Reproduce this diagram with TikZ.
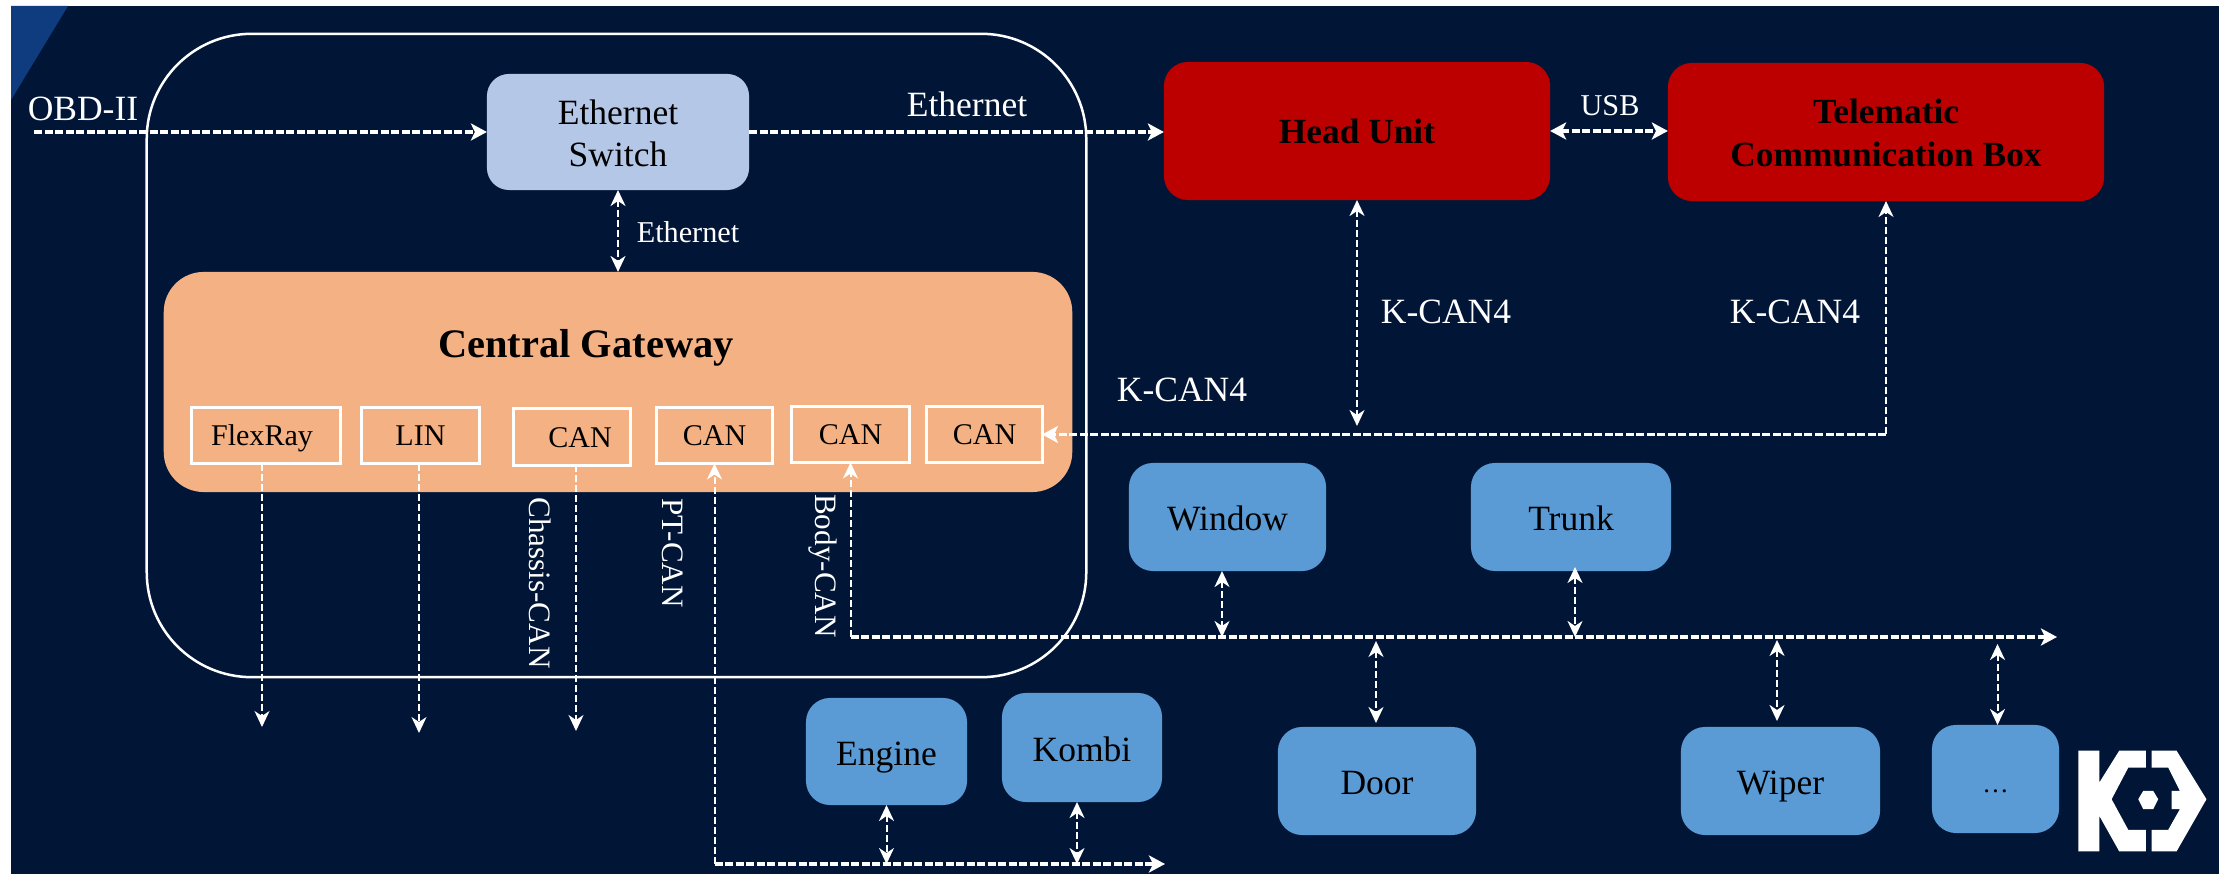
\documentclass[tikz,border=0pt]{standalone}
\usepackage{fontspec}
\setmainfont{Liberation Serif}
\usetikzlibrary{arrows.meta}
\definecolor{pagebg}{HTML}{011637}
\definecolor{wedgeblue}{HTML}{0F3C7E}
\definecolor{switchblue}{HTML}{B4C7E7}
\definecolor{gateorange}{HTML}{F4B183}
\definecolor{headred}{HTML}{BC0000}
\definecolor{ecublue}{HTML}{5B9BD5}
\tikzset{
    box/.style={inner sep=0pt, outer sep=0pt, align=center, font=\fontsize{10.1pt}{11.9pt}\selectfont},
    ecu/.style={box, fill=ecublue, rounded corners=0.24cm, text=black, text height=7.8pt, text depth=0pt},
    redbox/.style={box, fill=headred, rounded corners=0.24cm, text=black, font=\fontsize{10.05pt}{12.2pt}\selectfont\bfseries},
    portbox/.style={box, draw=white, line width=0.03cm, minimum height=0.56cm, text height=5.7pt, text depth=0pt, font=\fontsize{8.55pt}{10pt}\selectfont},
    lbl/.style={inner sep=0pt, outer sep=0pt, text=white, font=\fontsize{10.1pt}{12pt}\selectfont},
    smalllbl/.style={lbl, font=\fontsize{8.6pt}{10pt}\selectfont},
    vlbl/.style={lbl, rotate=-90, font=\fontsize{8.85pt}{11pt}\selectfont},
    thinbus/.style={white, line width=0.02cm, dash pattern=on 0.07cm off 0.03cm, >={Stealth[length=0.16cm,width=0.15cm,inset=0.05cm]}},
    thickbus/.style={white, line width=0.035cm, dash pattern=on 0.08cm off 0.025cm, >={Stealth[length=0.16cm,width=0.17cm,inset=0.04cm]}}
}
\begin{document}
\begin{tikzpicture}[x=0.01cm,y=-0.01cm]
    \useasboundingbox (0,0) rectangle (2231,874);
    \fill [white] (0,0) rectangle (2231,874);
    \fill [pagebg] (11,6) rectangle (2219,874);
    \fill [wedgeblue] (11,6) -- (68,6) -- (11,100) -- cycle;

    \node [box, draw=white, line width=0.025cm, rounded corners=1.05cm, minimum width=9.39cm, minimum height=6.43cm] (frame) at (616.5,355.5) {};
    \node [box, fill=switchblue, rounded corners=0.22cm, minimum width=2.62cm, minimum height=1.16cm, text=black, text height=19.5pt, text depth=0pt] (switch) at (618,132) {Ethernet\\Switch};
    \node [box, fill=gateorange, rounded corners=0.4cm, minimum width=9.08cm, minimum height=2.2cm] (gate) at (618,382) {};
    \node [box, text=black, text height=7.6pt, text depth=0pt, font=\fontsize{11.5pt}{13pt}\selectfont\bfseries] (gatetitle) at (586,344) {Central Gateway};

    \node [portbox, minimum width=1.48cm] (flex) at (266,435.5) {FlexRay\hspace{0.08cm}};
    \node [portbox, minimum width=1.17cm] (lin) at (420.5,435.5) {LIN};
    \node [portbox, minimum width=1.16cm] (canc) at (572,437) {\hspace{0.16cm}CAN};
    \node [portbox, minimum width=1.15cm] (canp) at (714.5,435.5) {CAN};
    \node [portbox, minimum width=1.17cm] (canb) at (850.5,434.5) {CAN};
    \node [portbox, minimum width=1.15cm] (cank) at (984.5,434.5) {CAN};

    \node [redbox, minimum width=3.86cm, minimum height=1.38cm, text height=7.2pt, text depth=0pt] (head) at (1357,131) {Head Unit};
    \node [redbox, minimum width=4.36cm, minimum height=1.38cm, text height=19.5pt, text depth=0pt] (tele) at (1886,132) {Telematic\\Communication Box};

    \node [ecu, minimum width=1.97cm, minimum height=1.08cm] (window) at (1227.5,517) {Window};
    \node [ecu, minimum width=2cm, minimum height=1.08cm] (trunk) at (1571,517) {Trunk};
    \node [ecu, minimum width=1.98cm, minimum height=1.08cm] (door) at (1377,781) {Door};
    \node [ecu, minimum width=1.99cm, minimum height=1.08cm] (wiper) at (1780.5,781) {Wiper};
    \node [ecu, minimum width=1.27cm, minimum height=1.08cm] (dots) at (1995.5,779) {\fontsize{7.5pt}{9pt}\selectfont\dots};
    \node [ecu, minimum width=1.61cm, minimum height=1.07cm] (engine) at (886.5,751.5) {Engine};
    \node [ecu, minimum width=1.6cm, minimum height=1.09cm] (kombi) at (1082,747.5) {Kombi};

    \node [lbl] (obdlbl) at (83,109) {OBD-II};
    \node [lbl] (ethlbl) at (967,104) {Ethernet};
    \node [smalllbl] (gwethlbl) at (688,232) {Ethernet};
    \node [smalllbl] (usblbl) at (1610,106) {USB};
    \node [lbl] (kheadlbl) at (1446,312) {K-CAN4};
    \node [lbl] (ktelelbl) at (1795,312) {K-CAN4};
    \node [lbl] (kgatelbl) at (1182,390) {K-CAN4};
    \node [vlbl] (chassislbl) at (540,583) {Chassis-CAN};
    \node [vlbl] (ptlbl) at (673,553) {PT-CAN};
    \node [vlbl] (bodylbl) at (823,566) {Body-CAN};

    \coordinate (obd) at (34,132);
    \coordinate (kbend) at (tele.south |- cank.east);
    \coordinate (kstop) at (1357,426);
    \coordinate (flexend) at (262,727);
    \coordinate (linend) at (419,733);
    \coordinate (canend) at (576,731);
    \coordinate (ptbend) at (canp.south |- 0,864);
    \coordinate (ptend) at (1165,864);
    \coordinate (bodybend) at (canb.south |- 0,637);
    \coordinate (bodyend) at (2057,637);
    \coordinate (wintap) at (1222,637);
    \coordinate (trunktap) at (1575,637);
    \coordinate (trunkstop) at (1575,567);
    \coordinate (doorstop) at (1376,723);
    \coordinate (doortap) at (1376,641);
    \coordinate (wipertap) at (1777,640);
    \coordinate (wiperstop) at (1777,721);
    \coordinate (dotstap) at (1997.5,644);

    \draw [thickbus,->] (obd) -- (switch.west);
    \draw [thickbus,->] (switch.east) -- (switch.east -| head.west);
    \draw [thickbus,<->] (head.east) -- (head.east -| tele.west);
    \draw [thinbus,<->] (switch.south) -- (switch.south |- gate.north);
    \draw [thinbus,<->] (head.south) -- (kstop);
    \draw [thinbus,->] (kbend) -- (tele.south);
    \draw [thickbus,->] (kbend) -- (cank.east);

    \draw [thinbus,->] (flexend |- flex.south) -- (flexend);
    \draw [thinbus,->] (linend |- lin.south) -- (linend);
    \draw [thinbus,->] (canend |- canc.south) -- (canend);
    \draw [thinbus,->] (ptbend) -- (canp.south);
    \draw [thickbus,->] (ptbend) -- (ptend);
    \draw [thinbus,->] (bodybend) -- (canb.south);
    \draw [thickbus,->] (bodybend) -- (bodyend);

    \draw [thinbus,<->] (wintap |- window.south) -- (wintap);
    \draw [thinbus,<->] (trunkstop) -- (trunktap);
    \draw [thinbus,<->] (doortap) -- (doorstop);
    \draw [thinbus,<->] (wipertap) -- (wiperstop);
    \draw [thinbus,<->] (dotstap) -- (dotstap |- dots.north);
    \draw [thinbus,<->] (engine.south) -- (engine.south |- ptend);
    \draw [thinbus,<->] (kombi.south -| 1077,0) -- (1077,864);

    \begin{scope}[shift={(2070,730)},x=0.00333cm,y=-0.00333cm]
        \fill [white] (25,62) -- (88,62) -- (88,158) -- (148,62) -- (228,62) -- (228,113) -- (175,113) -- (125,208) -- (175,300) -- (228,300) -- (228,365) -- (148,365) -- (88,258) -- (88,365) -- (25,365) -- cycle;
        \fill [white] (245,62) -- (320,62) -- (410,208) -- (320,365) -- (245,365) -- (245,300) -- (295,300) -- (330,238) -- (305,238) -- (305,183) -- (330,183) -- (295,113) -- (245,113) -- cycle;
        \fill [white] (205,208) -- (220,183) -- (250,183) -- (265,208) -- (250,238) -- (220,238) -- cycle;
    \end{scope}
\end{tikzpicture}
\end{document}
